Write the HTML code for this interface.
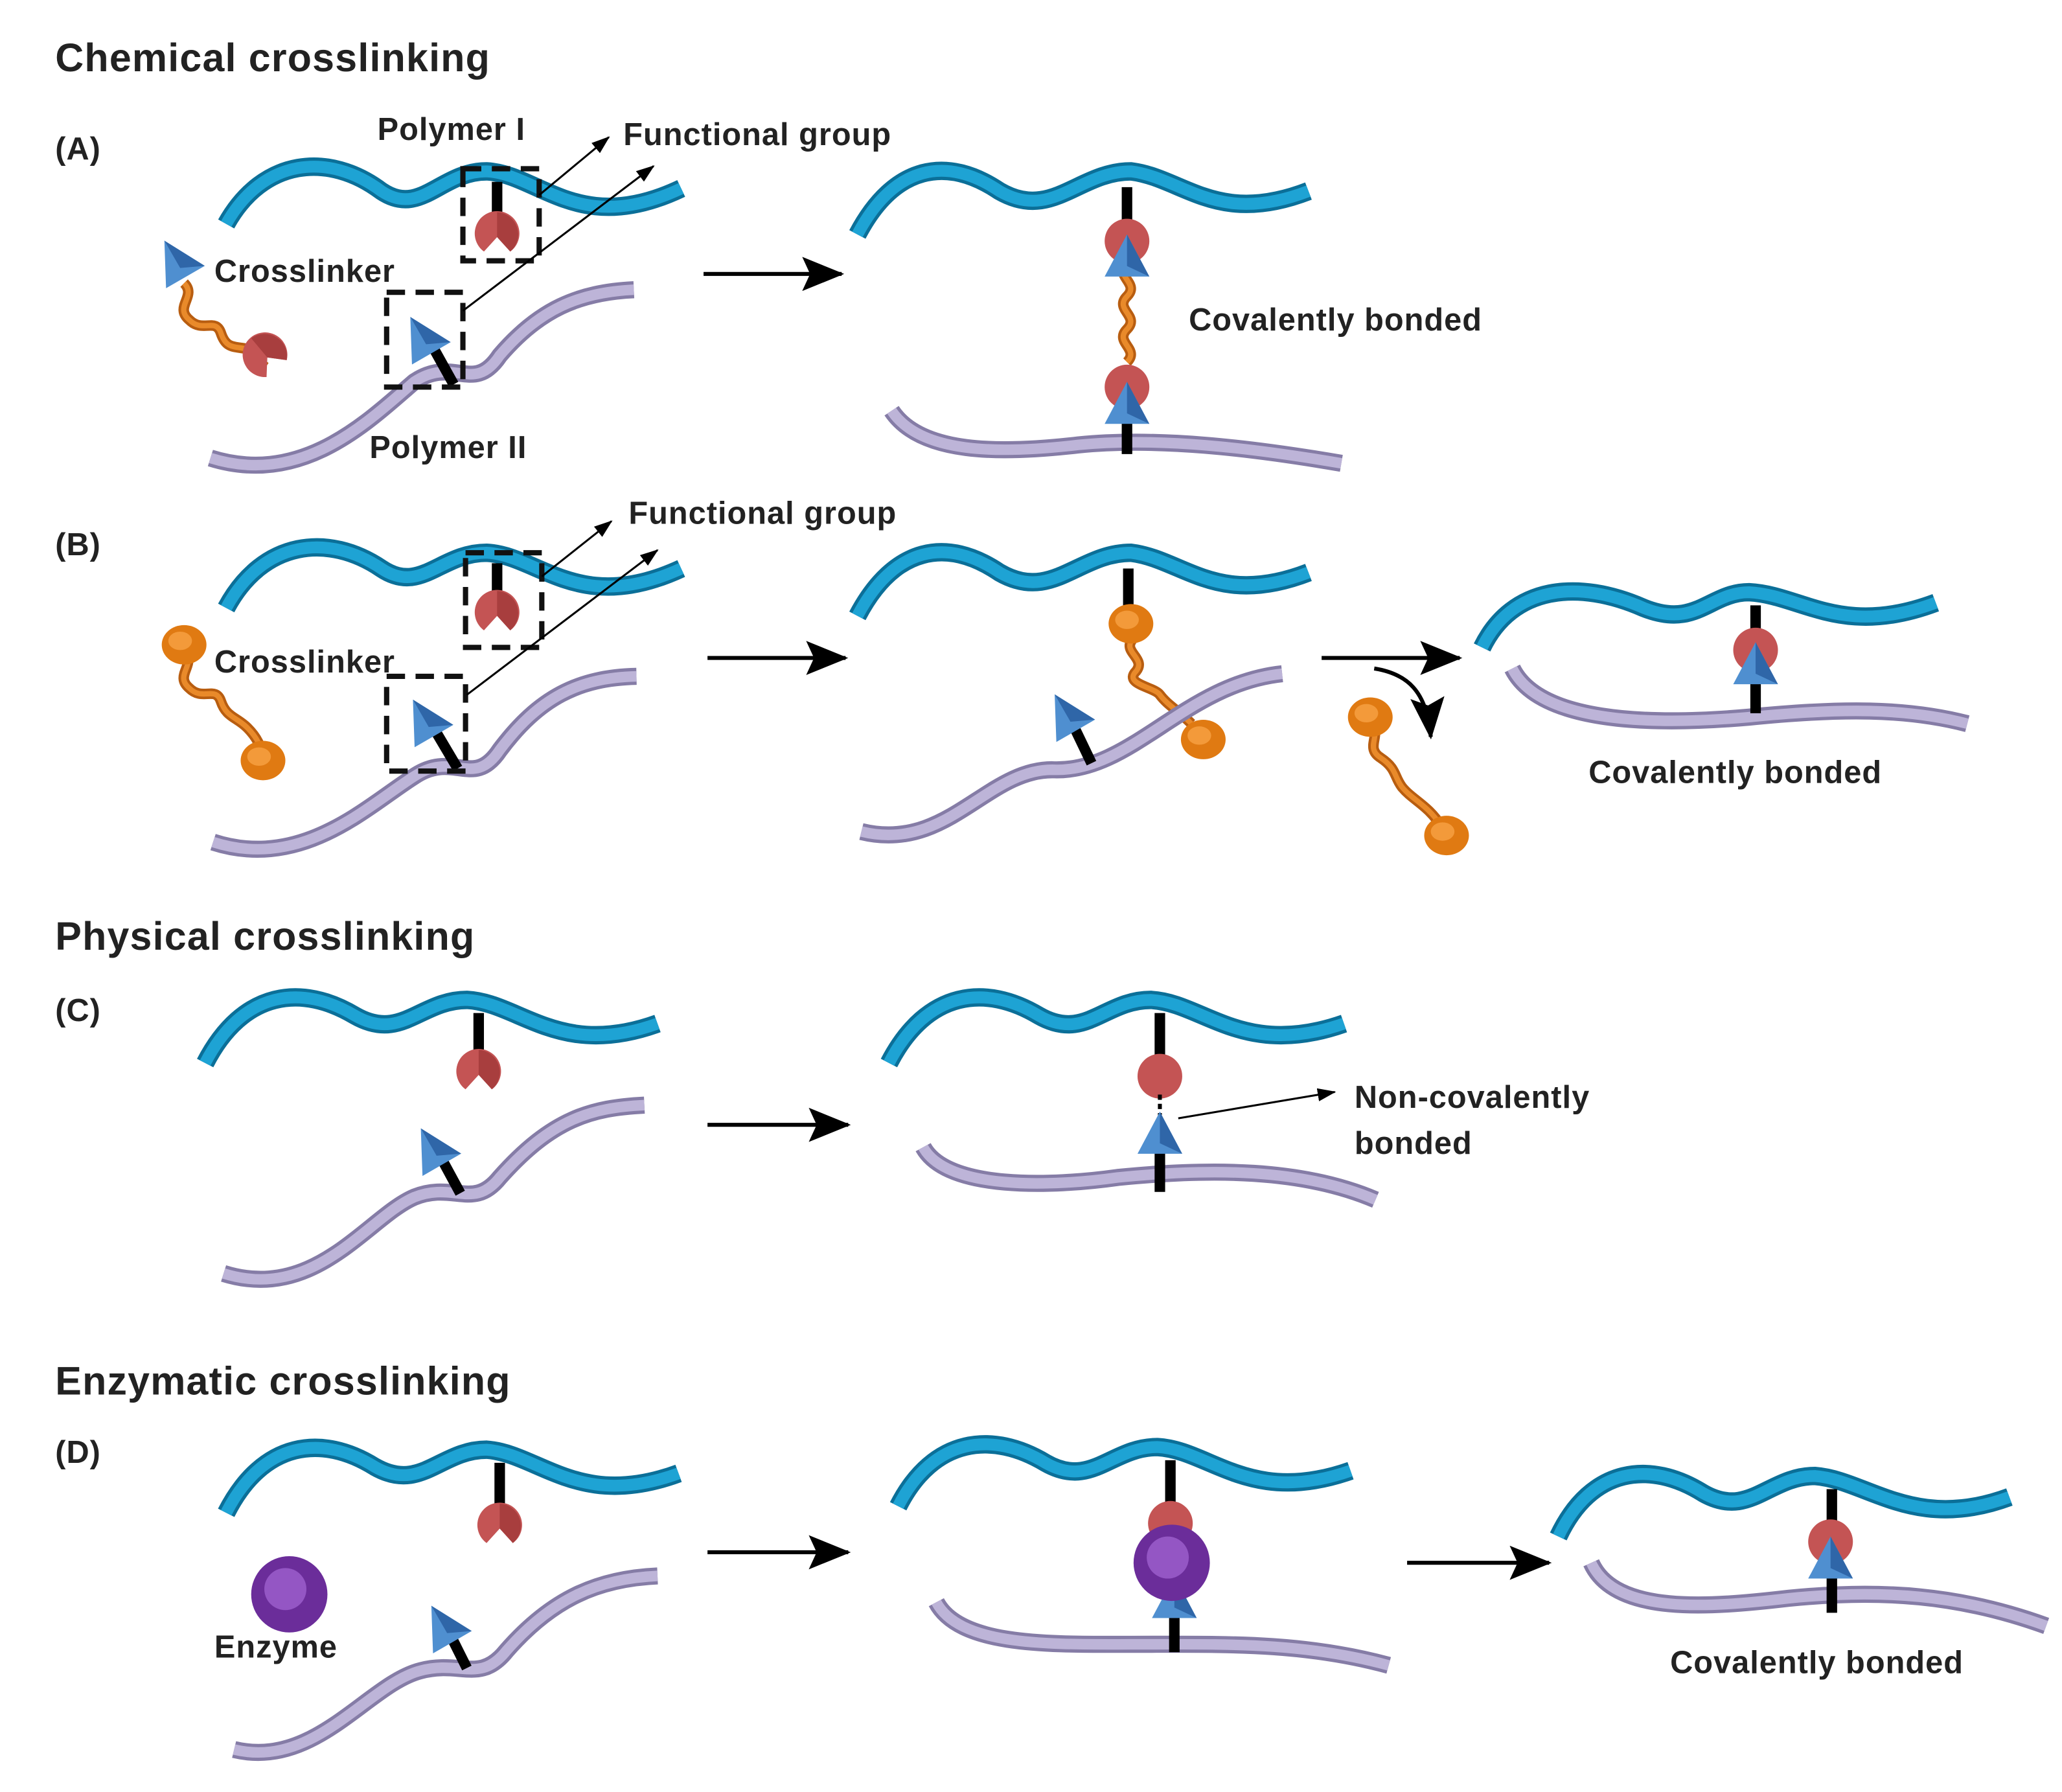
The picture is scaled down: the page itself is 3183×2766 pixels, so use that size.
<!DOCTYPE html>
<html><head><meta charset="utf-8"><style>
html,body{margin:0;padding:0;background:#fff;}
svg{display:block;}
text{font-family:"Liberation Sans",sans-serif;fill:#222;}
.l{font-size:24px;font-weight:bold;letter-spacing:0.5px;}
.h{font-size:30px;font-weight:bold;letter-spacing:0.6px;}
.bo{fill:none;stroke:#0b6f98;stroke-width:14;stroke-linecap:butt;}
.bi{fill:none;stroke:#1ea3d4;stroke-width:9;}
.po{fill:none;stroke:#857ca6;stroke-width:13;}
.pi{fill:none;stroke:#bdb4d8;stroke-width:8;}
.st{stroke:#000;stroke-width:8;}
.ds{fill:none;stroke:#111;stroke-width:4;stroke-dasharray:14,8;}
.ar{stroke:#000;stroke-width:3;marker-end:url(#m);}
.tn{stroke:#000;stroke-width:1.5;marker-end:url(#ms);}
.wg{fill:none;stroke:#b85d10;stroke-width:8;}
.wg2{fill:none;stroke:#e98a2a;stroke-width:4;}
</style></head><body>
<svg width="3183" height="2766" viewBox="0 0 1568 1362" xmlns="http://www.w3.org/2000/svg">
<defs>
<marker id="m" markerWidth="32" markerHeight="26" refX="30" refY="13" orient="auto" markerUnits="userSpaceOnUse" viewBox="0 0 32 26"><path d="M0,0 L32,13 L0,26 L6,13 Z" fill="#000"/></marker>
<marker id="ms" markerWidth="14" markerHeight="10" refX="13" refY="5" orient="auto" markerUnits="userSpaceOnUse" viewBox="0 0 14 10"><path d="M0,0 L14,5 L0,10 Z" fill="#000"/></marker>
<g id="rec"><path d="M10,13 A17,17 0 1 0 -10,13 L0,2 Z" fill="#c45454"/><path d="M0,-17 A17,17 0 0 1 10,13 L0,2 Z" fill="#a83e3e"/></g>
<g id="tri"><polygon points="0,-20 17,12 -17,12" fill="#4f8fd0"/><polygon points="0,-20 17,12 0,4" fill="#2f66a8"/></g>
<g id="ball"><ellipse cx="0" cy="0" rx="17" ry="15" fill="#e07a12"/><ellipse cx="-3" cy="-3" rx="9" ry="7" fill="#f39a3a"/></g>
<g id="enz"><circle r="29" fill="#6b2d9a"/><circle cx="-3" cy="-4" r="16" fill="#9456c4"/></g>
</defs>

<text class="h" x="42" y="54">Chemical crosslinking</text>
<text class="l" x="42" y="121">(A)</text>
<path class="bo" d="M172,170 C200,120 250,115 290,145 C320,165 335,130 370,130 C410,132 440,180 518,143"/>
<path class="bi" d="M172,170 C200,120 250,115 290,145 C320,165 335,130 370,130 C410,132 440,180 518,143"/>
<line class="st" x1="378" y1="138" x2="378" y2="165"/>
<use href="#rec" x="378" y="178"/>
<rect class="ds" x="352" y="128" width="58" height="70"/>
<path class="wg" d="M140,215 c10,10 -8,18 4,28 c10,10 20,-2 24,10 c4,12 10,10 20,12 c10,4 8,10 14,14"/>
<path class="wg2" d="M140,215 c10,10 -8,18 4,28 c10,10 20,-2 24,10 c4,12 10,10 20,12 c10,4 8,10 14,14"/>
<use href="#tri" x="135" y="200" transform="rotate(-30 135 200)"/>
<use href="#rec" x="202" y="270" transform="rotate(-40 202 270)"/>
<path class="po" d="M160,348 C230,370 280,320 315,290 C345,270 360,300 380,270 C410,235 440,222 482,220"/>
<path class="pi" d="M160,348 C230,370 280,320 315,290 C345,270 360,300 380,270 C410,235 440,222 482,220"/>
<line class="st" x1="345" y1="292" x2="330" y2="265"/>
<use href="#tri" x="322" y="258" transform="rotate(-30 322 258)"/>
<rect class="ds" x="294" y="222" width="58" height="72"/>
<line class="tn" x1="410" y1="148" x2="463" y2="104"/>
<line class="tn" x1="352" y1="236" x2="497" y2="126"/>
<text class="l" x="287" y="106">Polymer I</text>
<text class="l" x="474" y="110">Functional group</text>
<text class="l" x="163" y="214">Crosslinker</text>
<text class="l" x="281" y="348">Polymer II</text>
<line class="ar" x1="535" y1="208" x2="640" y2="208"/>
<path class="bo" d="M652,178 C680,125 720,118 760,145 C800,168 820,130 860,130 C900,135 925,172 995,145"/>
<path class="bi" d="M652,178 C680,125 720,118 760,145 C800,168 820,130 860,130 C900,135 925,172 995,145"/>
<path class="po" d="M678,312 C700,345 760,345 820,338 C880,332 950,340 1020,352"/>
<path class="pi" d="M678,312 C700,345 760,345 820,338 C880,332 950,340 1020,352"/>
<line class="st" x1="857" y1="142" x2="857" y2="175"/>
<line class="st" x1="857" y1="310" x2="857" y2="345"/>
<path class="wg" d="M857,200 c-10,10 10,15 0,25 c-10,10 10,15 0,25 c-10,10 10,15 0,25"/>
<path class="wg2" d="M857,200 c-10,10 10,15 0,25 c-10,10 10,15 0,25 c-10,10 10,15 0,25"/>
<circle cx="857" cy="183" r="17" fill="#c45454"/>
<use href="#tri" x="857" y="198"/>
<circle cx="857" cy="294" r="17" fill="#c45454"/>
<use href="#tri" x="857" y="310"/>
<text class="l" x="904" y="251">Covalently bonded</text>

<text class="l" x="42" y="422">(B)</text>
<path class="bo" d="M172,462 C200,410 250,405 290,432 C320,452 335,420 370,420 C410,422 440,468 518,432"/>
<path class="bi" d="M172,462 C200,410 250,405 290,432 C320,452 335,420 370,420 C410,422 440,468 518,432"/>
<line class="st" x1="378" y1="428" x2="378" y2="455"/>
<use href="#rec" x="378" y="466"/>
<rect class="ds" x="354" y="420" width="58" height="72"/>
<path class="wg" d="M140,495 c10,10 -8,18 4,28 c10,10 20,-2 24,10 c4,12 12,12 20,20 c8,8 10,14 12,22"/>
<path class="wg2" d="M140,495 c10,10 -8,18 4,28 c10,10 20,-2 24,10 c4,12 12,12 20,20 c8,8 10,14 12,22"/>
<use href="#ball" x="140" y="490"/>
<use href="#ball" x="200" y="578"/>
<path class="po" d="M162,640 C230,662 280,612 315,590 C345,570 360,600 380,570 C410,530 440,515 484,514"/>
<path class="pi" d="M162,640 C230,662 280,612 315,590 C345,570 360,600 380,570 C410,530 440,515 484,514"/>
<line class="st" x1="348" y1="584" x2="332" y2="557"/>
<use href="#tri" x="324" y="549" transform="rotate(-30 324 549)"/>
<rect class="ds" x="294" y="514" width="60" height="72"/>
<line class="tn" x1="412" y1="438" x2="465" y2="396"/>
<line class="tn" x1="355" y1="528" x2="500" y2="418"/>
<text class="l" x="478" y="398">Functional group</text>
<text class="l" x="163" y="511">Crosslinker</text>
<line class="ar" x1="538" y1="500" x2="643" y2="500"/>
<path class="bo" d="M652,468 C680,415 720,408 760,435 C800,458 820,420 860,420 C900,425 925,462 995,435"/>
<path class="bi" d="M652,468 C680,415 720,408 760,435 C800,458 820,420 860,420 C900,425 925,462 995,435"/>
<line class="st" x1="858" y1="432" x2="858" y2="462"/>
<path class="wg" d="M862,485 c-10,10 10,15 2,25 c-10,10 14,12 18,18 c6,8 14,12 24,22"/>
<path class="wg2" d="M862,485 c-10,10 10,15 2,25 c-10,10 14,12 18,18 c6,8 14,12 24,22"/>
<path class="po" d="M655,632 C720,648 750,585 800,585 C860,588 900,520 975,512"/>
<path class="pi" d="M655,632 C720,648 750,585 800,585 C860,588 900,520 975,512"/>
<use href="#ball" x="860" y="474"/>
<use href="#ball" x="915" y="562"/>
<line class="st" x1="830" y1="580" x2="818" y2="555"/>
<use href="#tri" x="812" y="545" transform="rotate(-30 812 545)"/>
<line class="ar" x1="1005" y1="500" x2="1110" y2="500"/>
<path d="M1045,508 C1070,512 1085,525 1088,560" fill="none" stroke="#000" stroke-width="3" marker-end="url(#m)"/>
<path class="wg" d="M1042,548 c10,10 -5,20 8,28 c12,8 10,14 16,22 c8,10 20,14 30,30"/>
<path class="wg2" d="M1042,548 c10,10 -5,20 8,28 c12,8 10,14 16,22 c8,10 20,14 30,30"/>
<use href="#ball" x="1042" y="545"/>
<use href="#ball" x="1100" y="635"/>
<path class="bo" d="M1127,492 C1150,445 1200,440 1250,462 C1290,478 1300,450 1330,450 C1370,452 1400,485 1472,458"/>
<path class="bi" d="M1127,492 C1150,445 1200,440 1250,462 C1290,478 1300,450 1330,450 C1370,452 1400,485 1472,458"/>
<path class="po" d="M1150,508 C1170,548 1250,552 1330,545 C1400,538 1450,538 1496,550"/>
<path class="pi" d="M1150,508 C1170,548 1250,552 1330,545 C1400,538 1450,538 1496,550"/>
<line class="st" x1="1335" y1="460" x2="1335" y2="542"/>
<circle cx="1335" cy="494" r="17" fill="#c45454"/>
<use href="#tri" x="1335" y="508"/>
<text class="l" x="1208" y="595">Covalently bonded</text>

<text class="h" x="42" y="722">Physical crosslinking</text>
<text class="l" x="42" y="776">(C)</text>
<path class="bo" d="M156,808 C185,752 230,748 270,772 C305,792 320,760 355,760 C395,762 425,805 500,778"/>
<path class="bi" d="M156,808 C185,752 230,748 270,772 C305,792 320,760 355,760 C395,762 425,805 500,778"/>
<line class="st" x1="364" y1="770" x2="364" y2="800"/>
<use href="#rec" x="364" y="815"/>
<path class="po" d="M170,968 C240,990 280,925 315,910 C345,898 360,920 380,895 C420,850 450,842 490,840"/>
<path class="pi" d="M170,968 C240,990 280,925 315,910 C345,898 360,920 380,895 C420,850 450,842 490,840"/>
<line class="st" x1="350" y1="907" x2="337" y2="883"/>
<use href="#tri" x="330" y="875" transform="rotate(-30 330 875)"/>
<line class="ar" x1="538" y1="855" x2="645" y2="855"/>
<path class="bo" d="M676,808 C705,752 750,748 790,772 C825,792 840,760 875,760 C915,762 945,805 1022,778"/>
<path class="bi" d="M676,808 C705,752 750,748 790,772 C825,792 840,760 875,760 C915,762 945,805 1022,778"/>
<line class="st" x1="882" y1="770" x2="882" y2="805"/>
<circle cx="882" cy="818" r="17" fill="#c45454"/>
<line x1="882" y1="832" x2="882" y2="852" stroke="#000" stroke-width="3" stroke-dasharray="4,3"/>
<path class="po" d="M702,872 C720,905 800,902 850,895 C920,888 990,888 1046,912"/>
<path class="pi" d="M702,872 C720,905 800,902 850,895 C920,888 990,888 1046,912"/>
<line class="st" x1="882" y1="870" x2="882" y2="906"/>
<use href="#tri" x="882" y="865"/>
<line class="tn" x1="896" y1="850" x2="1015" y2="830"/>
<text class="l" x="1030" y="842">Non-covalently</text>
<text class="l" x="1030" y="877">bonded</text>

<text class="h" x="42" y="1060">Enzymatic crosslinking</text>
<text class="l" x="42" y="1112">(D)</text>
<path class="bo" d="M172,1150 C200,1095 245,1090 285,1115 C320,1135 335,1102 370,1102 C410,1105 440,1148 516,1120"/>
<path class="bi" d="M172,1150 C200,1095 245,1090 285,1115 C320,1135 335,1102 370,1102 C410,1105 440,1148 516,1120"/>
<line class="st" x1="380" y1="1112" x2="380" y2="1145"/>
<use href="#rec" x="380" y="1160"/>
<use href="#enz" x="220" y="1212"/>
<text class="l" x="163" y="1260">Enzyme</text>
<path class="po" d="M178,1330 C240,1345 280,1280 320,1270 C350,1262 365,1280 385,1255 C420,1215 455,1200 500,1198"/>
<path class="pi" d="M178,1330 C240,1345 280,1280 320,1270 C350,1262 365,1280 385,1255 C420,1215 455,1200 500,1198"/>
<line class="st" x1="355" y1="1268" x2="344" y2="1246"/>
<use href="#tri" x="338" y="1238" transform="rotate(-30 338 1238)"/>
<line class="ar" x1="538" y1="1180" x2="645" y2="1180"/>
<path class="bo" d="M683,1145 C710,1092 755,1088 795,1112 C830,1132 845,1100 880,1100 C920,1102 950,1145 1027,1118"/>
<path class="bi" d="M683,1145 C710,1092 755,1088 795,1112 C830,1132 845,1100 880,1100 C920,1102 950,1145 1027,1118"/>
<line class="st" x1="890" y1="1110" x2="890" y2="1145"/>
<circle cx="890" cy="1158" r="17" fill="#c45454"/>
<path class="po" d="M712,1218 C730,1252 800,1250 860,1250 C930,1250 990,1248 1056,1266"/>
<path class="pi" d="M712,1218 C730,1252 800,1250 860,1250 C930,1250 990,1248 1056,1266"/>
<line class="st" x1="893" y1="1220" x2="893" y2="1256"/>
<use href="#tri" x="893" y="1218"/>
<use href="#enz" x="891" y="1188"/>
<line class="ar" x1="1070" y1="1188" x2="1178" y2="1188"/>
<path class="bo" d="M1185,1168 C1210,1115 1255,1110 1295,1135 C1330,1155 1345,1122 1380,1122 C1420,1125 1455,1165 1528,1138"/>
<path class="bi" d="M1185,1168 C1210,1115 1255,1110 1295,1135 C1330,1155 1345,1122 1380,1122 C1420,1125 1455,1165 1528,1138"/>
<path class="po" d="M1210,1188 C1228,1228 1300,1222 1360,1215 C1430,1208 1490,1212 1556,1236"/>
<path class="pi" d="M1210,1188 C1228,1228 1300,1222 1360,1215 C1430,1208 1490,1212 1556,1236"/>
<line class="st" x1="1393" y1="1132" x2="1393" y2="1226"/>
<circle cx="1392" cy="1172" r="17" fill="#c45454"/>
<use href="#tri" x="1392" y="1188"/>
<text class="l" x="1270" y="1272">Covalently bonded</text>
</svg>
</body></html>
